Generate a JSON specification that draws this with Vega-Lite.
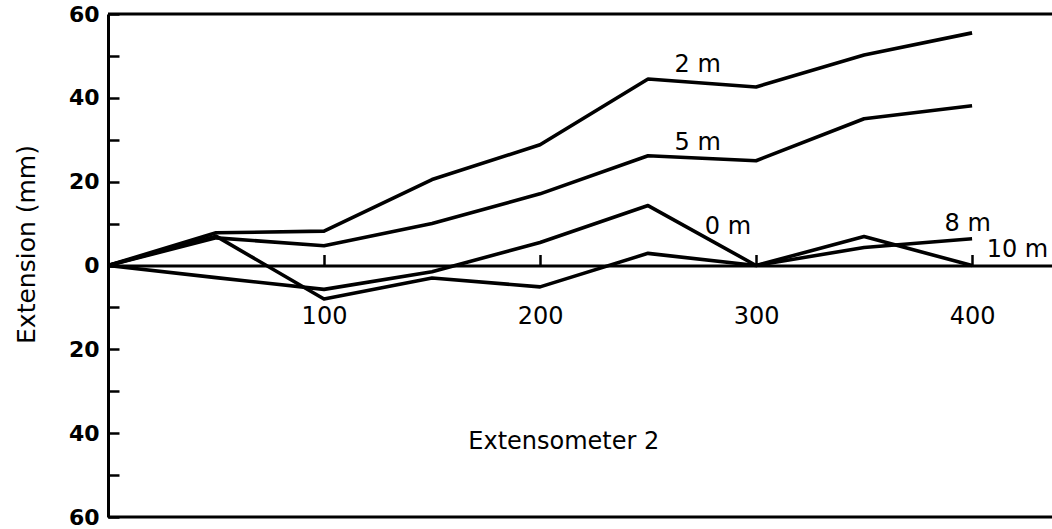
{
  "$schema": "https://vega.github.io/schema/vega-lite/v6.json",
  "width": 944,
  "height": 503,
  "autosize": {"type": "none"},
  "padding": {"left": 108, "top": 14, "right": 0, "bottom": 12},
  "background": "white",
  "config": {"view": {"stroke": null}, "font": "DejaVu Sans"},
  "datasets": {
    "series": [
      {"depth": "2 m", "x": 0, "ext": 0},
      {"depth": "2 m", "x": 50, "ext": 7.8},
      {"depth": "2 m", "x": 100, "ext": 8.2},
      {"depth": "2 m", "x": 150, "ext": 20.5},
      {"depth": "2 m", "x": 200, "ext": 28.8},
      {"depth": "2 m", "x": 250, "ext": 44.5},
      {"depth": "2 m", "x": 300, "ext": 42.6},
      {"depth": "2 m", "x": 350, "ext": 50.2},
      {"depth": "2 m", "x": 400, "ext": 55.5},
      {"depth": "5 m", "x": 0, "ext": 0},
      {"depth": "5 m", "x": 50, "ext": 6.6},
      {"depth": "5 m", "x": 100, "ext": 4.7},
      {"depth": "5 m", "x": 150, "ext": 10},
      {"depth": "5 m", "x": 200, "ext": 17.1},
      {"depth": "5 m", "x": 250, "ext": 26.2},
      {"depth": "5 m", "x": 300, "ext": 25},
      {"depth": "5 m", "x": 350, "ext": 35},
      {"depth": "5 m", "x": 400, "ext": 38.1},
      {"depth": "0 m", "x": 0, "ext": 0},
      {"depth": "0 m", "x": 50, "ext": -2.9},
      {"depth": "0 m", "x": 100, "ext": -5.7},
      {"depth": "0 m", "x": 150, "ext": -1.5},
      {"depth": "0 m", "x": 200, "ext": 5.5},
      {"depth": "0 m", "x": 250, "ext": 14.3},
      {"depth": "0 m", "x": 300, "ext": 0},
      {"depth": "8 m", "x": 300, "ext": 0},
      {"depth": "8 m", "x": 350, "ext": 4.3},
      {"depth": "8 m", "x": 400, "ext": 6.4},
      {"depth": "10 m", "x": 0, "ext": 0},
      {"depth": "10 m", "x": 50, "ext": 7},
      {"depth": "10 m", "x": 100, "ext": -8},
      {"depth": "10 m", "x": 150, "ext": -3},
      {"depth": "10 m", "x": 200, "ext": -5.1},
      {"depth": "10 m", "x": 250, "ext": 2.9},
      {"depth": "10 m", "x": 300, "ext": 0},
      {"depth": "10 m", "x": 350, "ext": 6.9},
      {"depth": "10 m", "x": 400, "ext": 0}
    ],
    "labels": [
      {"text": "2 m", "x": 273, "ext": 47.9},
      {"text": "5 m", "x": 273, "ext": 29.3},
      {"text": "0 m", "x": 287, "ext": 9.3},
      {"text": "8 m", "x": 398, "ext": 9.8},
      {"text": "10 m", "x": 421, "ext": 3.8},
      {"text": "Extensometer 2", "x": 211, "ext": -42.1}
    ],
    "frame": [{"ext": 60}, {"ext": -60}]
  },
  "layer": [
    {
      "data": {"name": "frame"},
      "mark": {"type": "rule", "color": "black", "strokeWidth": 3},
      "encoding": {
        "y": {"field": "ext", "type": "quantitative"}
      }
    },
    {
      "data": {"name": "series"},
      "mark": {"type": "line", "color": "black", "strokeWidth": 3.6, "strokeJoin": "round"},
      "encoding": {
        "x": {
          "field": "x", "type": "quantitative",
          "scale": {"domain": [0, 437], "nice": false, "zero": false},
          "axis": {
            "title": null,
            "orient": "bottom",
            "offset": -251.5,
            "values": [100, 200, 300, 400],
            "grid": false,
            "domainColor": "black", "domainWidth": 3,
            "tickColor": "black", "tickWidth": 2.5, "tickSize": -11,
            "labelPadding": 50,
            "labelFont": "DejaVu Sans", "labelFontSize": 24, "labelColor": "black",
            "labelFlush": false
          }
        },
        "y": {
          "field": "ext", "type": "quantitative",
          "scale": {"domain": [-60, 60], "nice": false},
          "axis": {
            "title": "Extension (mm)",
            "values": [-60, -50, -40, -30, -20, -10, 0, 10, 20, 30, 40, 50, 60],
            "labelExpr": "datum.value % 20 === 0 ? '' + abs(datum.value) : ''",
            "grid": false,
            "domainColor": "black", "domainWidth": 3,
            "tickColor": "black", "tickWidth": 2.5, "tickSize": -11,
            "labelPadding": 20,
            "labelFont": "DejaVu Sans", "labelFontSize": 22, "labelFontWeight": "bold", "labelColor": "black",
            "labelFlush": false,
            "titleFont": "DejaVu Sans", "titleFontSize": 25, "titleFontWeight": "normal", "titleColor": "black",
            "titleX": -82, "titleY": 230, "titleBaseline": "middle", "titleAngle": -90
          }
        },
        "detail": {"field": "depth", "type": "nominal"}
      }
    },
    {
      "data": {"name": "labels"},
      "mark": {"type": "text", "font": "DejaVu Sans", "fontSize": 24, "color": "black", "align": "center", "baseline": "middle"},
      "encoding": {
        "x": {"field": "x", "type": "quantitative"},
        "y": {"field": "ext", "type": "quantitative"},
        "text": {"field": "text"}
      }
    }
  ]
}
